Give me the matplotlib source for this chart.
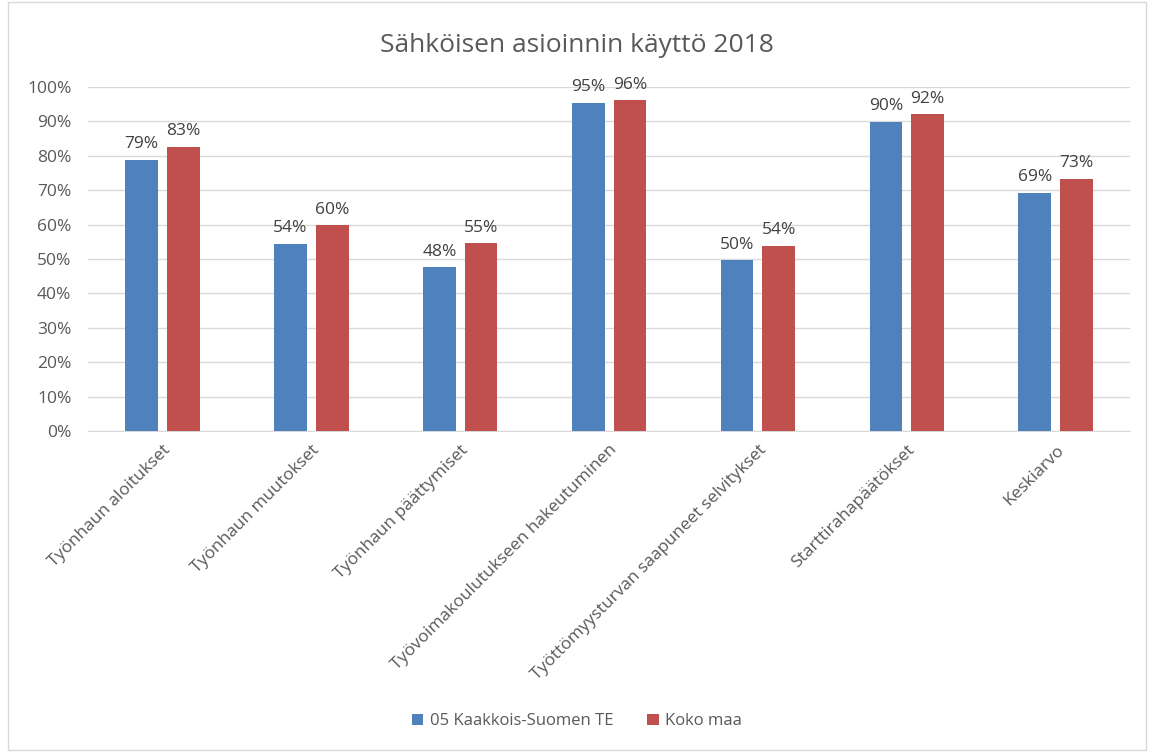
import matplotlib.pyplot as plt
import numpy as np
from matplotlib.patches import Rectangle

categories = ['Työnhaun aloitukset', 'Työnhaun muutokset', 'Työnhaun päättymiset',
              'Työvoimakoulutukseen hakeutuminen', 'Työttömyysturvan saapuneet selvitykset',
              'Starttirahapäätökset', 'Keskiarvo']
kaakkois = [0.788, 0.544, 0.476, 0.954, 0.496, 0.899, 0.692]
koko_maa = [0.827, 0.598, 0.546, 0.961, 0.538, 0.921, 0.733]
series_names = ['05 Kaakkois-Suomen TE', 'Koko maa']

plt.rcParams['font.family'] = ['Open Sans', 'DejaVu Sans']
text_col = '#595959'

fig = plt.figure(figsize=(11.54, 7.52), dpi=100)
ax = fig.add_axes([0.0763, 0.4269, 0.903, 0.4574])

x = np.arange(len(categories))
w = 0.22
off = 0.14
b1 = ax.bar(x - off, kaakkois, w, color='#4F81BD', label=series_names[0], zorder=3)
b2 = ax.bar(x + off, koko_maa, w, color='#C0504D', label=series_names[1], zorder=3)

for bars, vals in ((b1, kaakkois), (b2, koko_maa)):
    for rect, v in zip(bars, vals):
        ax.text(rect.get_x() + rect.get_width() / 2, v + 0.022, f'{round(v * 100)}%',
                ha='center', va='bottom', fontsize=12.5, color='#404040')

ax.set_xlim(-0.5, len(categories) - 0.5)
ax.set_ylim(0, 1)
ax.set_yticks(np.arange(0, 1.01, 0.1))
ax.set_yticklabels([f'{int(round(t * 100))}%' for t in np.arange(0, 1.01, 0.1)])
ax.yaxis.grid(True, color='#d9d9d9', linewidth=1, zorder=0)
ax.set_axisbelow(True)
for s in ['top', 'right', 'left']:
    ax.spines[s].set_visible(False)
ax.spines['bottom'].set_color('#d9d9d9')
ax.tick_params(axis='y', length=0, labelsize=12.5, labelcolor=text_col, pad=12)
ax.tick_params(axis='x', length=0, labelsize=12.5, labelcolor=text_col, pad=8)
ax.set_xticks(x)
ax.set_xticklabels(categories, rotation=45, ha='right', rotation_mode='anchor')

fig.suptitle('Sähköisen asioinnin käyttö 2018', y=0.956, fontsize=19, color=text_col)

fig.legend(loc='lower center', bbox_to_anchor=(0.5, 0.01), ncol=2, frameon=False,
           fontsize=12, labelcolor=text_col, handlelength=0.7, handleheight=0.7,
           handletextpad=0.4, columnspacing=2.0)

fig.patches.append(Rectangle((0.007, 0.003), 0.986, 0.994, transform=fig.transFigure,
                             fill=False, edgecolor='#d9d9d9', linewidth=1))

fig.savefig('out.png', dpi=100)
